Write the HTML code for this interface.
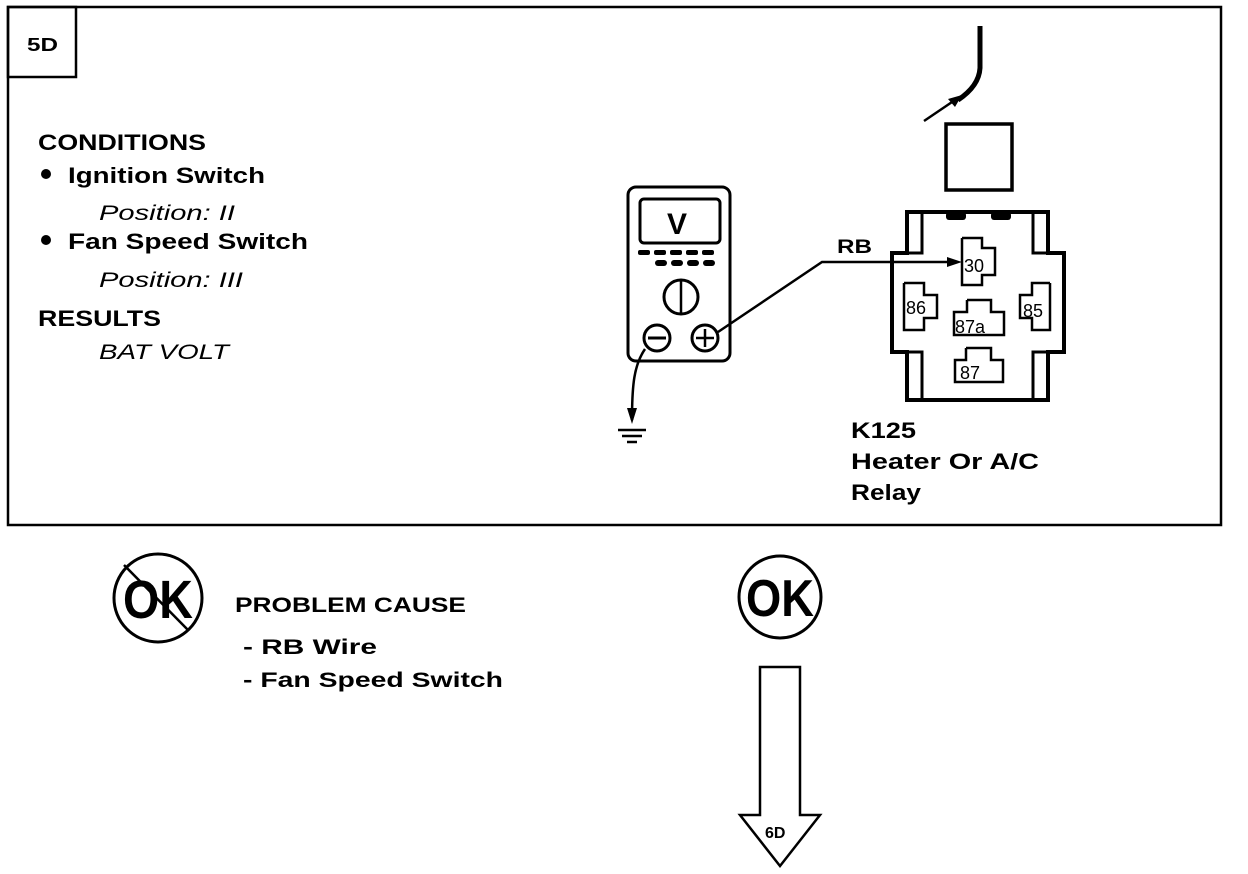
<!DOCTYPE html>
<html><head><meta charset="utf-8"><style>
html,body{margin:0;padding:0;background:#fff;width:1248px;height:874px;overflow:hidden}
svg{display:block}
text{font-family:"Liberation Sans",sans-serif;font-weight:bold;fill:#000}
.i{font-style:italic;font-weight:normal}
.n{font-weight:normal}
</style></head><body>
<svg width="1248" height="874" viewBox="0 0 1248 874" xmlns="http://www.w3.org/2000/svg">
<rect x="8" y="7" width="1213" height="518" fill="none" stroke="#000" stroke-width="2.5"/>
<rect x="8" y="7" width="68" height="70" fill="none" stroke="#000" stroke-width="2.5"/>
<text x="27" y="51" font-size="18" textLength="31" lengthAdjust="spacingAndGlyphs">5D</text>

<text x="38" y="150" font-size="22" textLength="168" lengthAdjust="spacingAndGlyphs">CONDITIONS</text>
<circle cx="46" cy="174" r="5"/>
<text x="68" y="183" font-size="22" textLength="197" lengthAdjust="spacingAndGlyphs">Ignition Switch</text>
<text x="99" y="220" font-size="21" class="i" textLength="136" lengthAdjust="spacingAndGlyphs">Position: II</text>
<circle cx="46" cy="240" r="5"/>
<text x="68" y="249" font-size="22" textLength="240" lengthAdjust="spacingAndGlyphs">Fan Speed Switch</text>
<text x="99" y="287" font-size="21" class="i" textLength="144" lengthAdjust="spacingAndGlyphs">Position: III</text>
<text x="38" y="326" font-size="22" textLength="123" lengthAdjust="spacingAndGlyphs">RESULTS</text>
<text x="99" y="359" font-size="21" class="i" textLength="130" lengthAdjust="spacingAndGlyphs">BAT VOLT</text>

<!-- multimeter -->
<rect x="628" y="187" width="102" height="174" rx="8" fill="none" stroke="#000" stroke-width="3"/>
<rect x="640" y="199" width="80" height="44" rx="4" fill="none" stroke="#000" stroke-width="3"/>
<text x="667" y="234" font-size="30">V</text>
<g fill="#000">
<rect x="638" y="250" width="12" height="5" rx="2"/><rect x="654" y="250" width="12" height="5" rx="2"/><rect x="670" y="250" width="12" height="5" rx="2"/><rect x="686" y="250" width="12" height="5" rx="2"/><rect x="702" y="250" width="12" height="5" rx="2"/>
<rect x="655" y="260" width="12" height="6" rx="3"/><rect x="671" y="260" width="12" height="6" rx="3"/><rect x="687" y="260" width="12" height="6" rx="3"/><rect x="703" y="260" width="12" height="6" rx="3"/>
</g>
<circle cx="681" cy="297" r="17" fill="none" stroke="#000" stroke-width="3"/>
<line x1="681" y1="281" x2="681" y2="313" stroke="#000" stroke-width="2.5"/>
<circle cx="657" cy="338" r="13" fill="none" stroke="#000" stroke-width="3"/>
<line x1="648" y1="338" x2="666" y2="338" stroke="#000" stroke-width="3"/>
<circle cx="705" cy="338" r="13" fill="none" stroke="#000" stroke-width="3"/>
<line x1="696" y1="338" x2="714" y2="338" stroke="#000" stroke-width="2.5"/>
<line x1="705" y1="329" x2="705" y2="347" stroke="#000" stroke-width="2.5"/>
<!-- wires -->
<polyline points="718,332 822,262 950,262" fill="none" stroke="#000" stroke-width="2.5"/>
<polygon points="962,262 947,257 947,267" fill="#000"/>
<text x="837" y="253" font-size="19" textLength="35" lengthAdjust="spacingAndGlyphs">RB</text>
<path d="M645,349 C634,365 632,385 632,420" fill="none" stroke="#000" stroke-width="2.5"/>
<polygon points="632,424 627,408 637,408" fill="#000"/>
<line x1="618" y1="430" x2="646" y2="430" stroke="#000" stroke-width="2.5"/>
<line x1="622" y1="436" x2="642" y2="436" stroke="#000" stroke-width="2.5"/>
<line x1="627" y1="442" x2="637" y2="442" stroke="#000" stroke-width="2.5"/>

<!-- top wire + fuse square -->
<path d="M980,26 L980,68 Q979,86 958,100" fill="none" stroke="#000" stroke-width="5"/>
<line x1="924" y1="121" x2="955" y2="100" stroke="#000" stroke-width="2.5"/>
<polygon points="962,95 948,99 955,107" fill="#000"/>
<rect x="946" y="124" width="66" height="66" fill="none" stroke="#000" stroke-width="3.5"/>

<!-- relay -->
<polygon points="907,212 1048,212 1048,253 1064,253 1064,352 1048,352 1048,400 907,400 907,352 892,352 892,253 907,253" fill="none" stroke="#000" stroke-width="4"/>
<polyline points="922,212 922,253 907,253" fill="none" stroke="#000" stroke-width="3"/>
<polyline points="1033,212 1033,253 1048,253" fill="none" stroke="#000" stroke-width="3"/>
<polyline points="922,400 922,352 907,352" fill="none" stroke="#000" stroke-width="3"/>
<polyline points="1033,400 1033,352 1048,352" fill="none" stroke="#000" stroke-width="3"/>
<rect x="946" y="212" width="20" height="8" rx="3" fill="#000"/>
<rect x="991" y="212" width="20" height="8" rx="3" fill="#000"/>
<g fill="none" stroke="#000" stroke-width="2.5">
<polyline points="962,238 982,238 982,248 995,248 995,275 982,275 982,285 962,285 962,238"/>
<polyline points="904,283 924,283 924,295 937,295 937,318 924,318 924,330 904,330 904,283"/>
<polyline points="1050,283 1032,283 1032,295 1020,295 1020,318 1032,318 1032,330 1050,330 1050,283"/>
<polyline points="967,300 991,300 991,312 1004,312 1004,335 954,335 954,312 967,312 967,300"/>
<polyline points="966,348 991,348 991,360 1003,360 1003,382 955,382 955,360 966,360 966,348"/>
</g>
<text x="964" y="272" font-size="18" class="n">30</text>
<text x="906" y="314" font-size="18" class="n">86</text>
<text x="1023" y="317" font-size="18" class="n">85</text>
<text x="955" y="333" font-size="18" class="n">87a</text>
<text x="960" y="379" font-size="18" class="n">87</text>

<text x="851" y="438" font-size="22" textLength="65" lengthAdjust="spacingAndGlyphs">K125</text>
<text x="851" y="469" font-size="22" textLength="188" lengthAdjust="spacingAndGlyphs">Heater Or A/C</text>
<text x="851" y="500" font-size="22" textLength="70" lengthAdjust="spacingAndGlyphs">Relay</text>

<!-- bottom -->
<circle cx="158" cy="598" r="44" fill="none" stroke="#000" stroke-width="3"/>
<text x="123" y="618" font-size="54" textLength="70" lengthAdjust="spacingAndGlyphs">OK</text>
<line x1="124" y1="565" x2="188" y2="630" stroke="#000" stroke-width="2.5"/>
<text x="235" y="612" font-size="21" textLength="231" lengthAdjust="spacingAndGlyphs">PROBLEM CAUSE</text>
<text x="243" y="654" font-size="21" textLength="134" lengthAdjust="spacingAndGlyphs">-  RB  Wire</text>
<text x="243" y="687" font-size="21" textLength="260" lengthAdjust="spacingAndGlyphs">-  Fan Speed Switch</text>

<circle cx="780" cy="597" r="41" fill="none" stroke="#000" stroke-width="3"/>
<text x="746" y="616" font-size="52" textLength="68" lengthAdjust="spacingAndGlyphs">OK</text>
<polygon points="760,667 800,667 800,815 820,815 780,866 740,815 760,815" fill="none" stroke="#000" stroke-width="2.5"/>
<text x="765" y="838" font-size="16">6D</text>
</svg>
</body></html>
